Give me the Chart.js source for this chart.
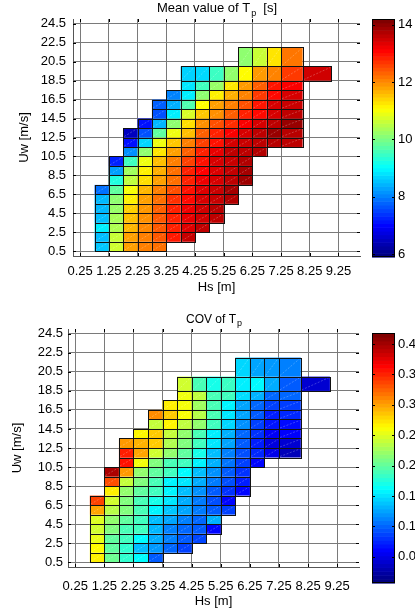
<!DOCTYPE html>
<html>
<head>
<meta charset="utf-8">
<script src="https://cdn.jsdelivr.net/npm/chart.js@4.4.1/dist/chart.umd.min.js"></script>
<style>
html,body{margin:0;padding:0;background:#fff;width:415px;height:615px;overflow:hidden}
canvas{position:absolute}
</style>
</head>
<body>
<canvas id="meanChart" width="415" height="310" style="left:0;top:0"></canvas>
<canvas id="meanBar" width="55" height="310" style="left:360px;top:0"></canvas>
<canvas id="covChart" width="415" height="305" style="left:0;top:310px"></canvas>
<canvas id="covBar" width="55" height="305" style="left:360px;top:310px"></canvas>
<script>
// ---------------- data ----------------
const hsEdges = [0.75,1.25,1.75,2.25,2.75,3.25,3.75,4.25,4.75,5.25,5.75,6.25,6.75,7.25,8.0,9.0];
const uwEdges = [0.5,1.5,2.5,3.5,4.5,5.5,6.5,7.5,8.5,9.5,10.5,11.5,12.5,13.5,14.5,15.5,16.5,17.5,18.5,20.0,22.0];
const hsTickValues = [0.25,1.25,2.25,3.25,4.25,5.25,6.25,7.25,8.25,9.25];
const hsTickLabels = ['0.25','1.25','2.25','3.25','4.25','5.25','6.25','7.25','8.25','9.25'];
const uwTickValues = [0.5,2.5,4.5,6.5,8.5,10.5,12.5,14.5,16.5,18.5,20.5,22.5,24.5];
const uwTickLabels = ['0.5','2.5','4.5','6.5','8.5','10.5','12.5','14.5','16.5','18.5','20.5','22.5','24.5'];
const meanBarTicks = [6,8,10,12,14];
const meanBarLabels = ['6','8','10','12','14'];
const covBarTicks = [0.05,0.1,0.15,0.2,0.25,0.3,0.35,0.4];
const covBarLabels = ['0.05','0.1','0.15','0.2','0.25','0.3','0.35','0.4'];
const meanRange = [5.9,14.2];
const covRange = [0.007,0.418];
const N = null;
// Mean value of Tp [s]; one row per Uw bin (bottom to top), one column per Hs bin
const meanTp = [
 [8.56,10.7,11.86,12.13,12.26,N,N,N,N,N,N,N,N,N,N],
 [8.49,10.64,11.86,12.13,12.45,12.97,13.62,N,N,N,N,N,N,N,N],
 [8.89,10.44,11.67,12.06,12.45,12.9,13.42,13.68,N,N,N,N,N,N,N],
 [8.49,10.38,11.61,11.99,12.45,12.9,13.35,13.55,13.7,N,N,N,N,N,N],
 [8.43,10.25,11.48,11.93,12.38,12.9,13.29,13.55,13.75,N,N,N,N,N,N],
 [8.43,10.18,11.21,11.86,12.26,12.77,13.1,13.49,13.62,13.8,N,N,N,N,N],
 [7.85,9.79,11.02,11.67,12.13,12.52,13.03,13.42,13.6,13.9,N,N,N,N,N],
 [N,9.27,10.57,11.35,11.86,12.26,12.9,13.29,13.5,13.7,13.95,N,N,N,N],
 [N,8.24,10.32,11.21,11.74,12.26,12.9,13.16,13.45,13.65,13.9,N,N,N,N],
 [N,7.2,9.53,10.96,11.61,12.13,12.64,13.03,13.49,13.6,13.8,N,N,N,N],
 [N,N,8.11,10.18,11.28,11.86,12.38,12.9,13.35,13.68,13.7,13.8,N,N,N],
 [N,N,7.06,8.69,10.96,11.54,12.13,12.64,13.03,13.5,13.6,13.7,13.75,13.7,N],
 [N,N,6.42,7.59,9.79,10.96,11.61,12.38,12.9,13.2,13.5,13.7,14.0,13.75,N],
 [N,N,N,7.06,8.43,10.18,11.35,11.99,12.52,12.8,13.2,13.5,13.7,14.0,N],
 [N,N,N,N,7.59,8.89,10.77,11.54,11.99,12.4,12.9,13.1,13.5,13.7,N],
 [N,N,N,N,7.72,8.37,9.66,11.09,11.86,12.13,12.5,13.0,13.5,13.6,N],
 [N,N,N,N,N,8.0,8.89,10.18,11.21,11.74,12.1,12.7,13.1,13.5,N],
 [N,N,N,N,N,N,8.82,9.53,10.25,11.28,11.9,12.4,13.0,13.2,N],
 [N,N,N,N,N,N,8.65,8.7,9.5,10.2,11.1,11.9,12.1,12.7,13.55],
 [N,N,N,N,N,N,N,N,N,N,10.18,10.64,11.3,12.2,N]
];
// COV of Tp
const covTp = [
 [0.27,0.205,0.18,0.16,0.095,N,N,N,N,N,N,N,N,N,N],
 [0.265,0.20,0.18,0.135,0.12,0.10,0.084,N,N,N,N,N,N,N,N],
 [0.255,0.20,0.187,0.16,0.128,0.11,0.095,0.086,N,N,N,N,N,N,N],
 [0.245,0.213,0.19,0.187,0.132,0.11,0.10,0.095,0.06,N,N,N,N,N,N],
 [0.25,0.22,0.20,0.187,0.135,0.125,0.11,0.10,0.13,N,N,N,N,N,N],
 [0.30,0.235,0.213,0.19,0.157,0.138,0.125,0.108,0.095,0.084,N,N,N,N,N],
 [0.34,0.245,0.213,0.19,0.17,0.152,0.128,0.108,0.09,0.06,N,N,N,N,N],
 [N,0.27,0.22,0.20,0.187,0.157,0.135,0.117,0.095,0.078,0.06,N,N,N,N],
 [N,0.335,0.24,0.213,0.19,0.157,0.152,0.128,0.108,0.09,0.07,N,N,N,N],
 [N,0.40,0.305,0.22,0.20,0.187,0.16,0.135,0.117,0.095,0.078,N,N,N,N],
 [N,N,0.36,0.26,0.213,0.19,0.187,0.157,0.13,0.105,0.084,0.06,N,N,N],
 [N,N,0.355,0.30,0.245,0.22,0.20,0.17,0.135,0.11,0.09,0.074,0.05,0.03,N],
 [N,N,0.305,0.295,0.285,0.232,0.213,0.187,0.152,0.125,0.095,0.07,0.045,0.04,N],
 [N,N,N,0.267,0.285,0.24,0.22,0.19,0.155,0.13,0.10,0.078,0.055,0.058,N],
 [N,N,N,N,0.24,0.268,0.238,0.22,0.187,0.145,0.117,0.084,0.066,0.062,N],
 [N,N,N,N,0.31,0.285,0.262,0.235,0.19,0.152,0.125,0.095,0.07,0.074,N],
 [N,N,N,N,N,0.27,0.26,0.225,0.19,0.157,0.125,0.10,0.084,0.083,N],
 [N,N,N,N,N,N,0.258,0.238,0.19,0.187,0.148,0.13,0.10,0.10,N],
 [N,N,N,N,N,N,0.245,0.19,0.17,0.185,0.155,0.16,0.128,0.095,0.04],
 [N,N,N,N,N,N,N,N,N,N,0.145,0.125,0.12,0.11,N]
];

// ---------------- helpers ----------------
const FONT = "'Liberation Sans', Arial, sans-serif";
function clamp01(v){return Math.max(0,Math.min(1,v));}
function jet(t){
  t = clamp01(t);
  const r = clamp01(Math.min(4*t-1.5, -4*t+4.5));
  const g = clamp01(Math.min(4*t-0.5, -4*t+3.5));
  const b = clamp01(Math.min(4*t+0.5, -4*t+2.5));
  return `rgb(${Math.round(r*255)},${Math.round(g*255)},${Math.round(b*255)})`;
}
function buildCells(matrix){
  const pts = [];
  matrix.forEach((row, r) => row.forEach((v, c) => {
    if (v === null) return;
    pts.push({x:(hsEdges[c]+hsEdges[c+1])/2, y:(uwEdges[r]+uwEdges[r+1])/2,
      x0:hsEdges[c], x1:hsEdges[c+1], y0:uwEdges[r], y1:uwEdges[r+1], v});
  }));
  return pts;
}

const cellsPlugin = {
  id:'cells',
  beforeDatasetsDraw(chart, args, o){
    if (!o || !o.range) return;
    const {ctx, scales:{x, y}} = chart;
    const pts = chart.data.datasets[0].data;
    ctx.save();
    pts.forEach(p => {
      const L = x.getPixelForValue(p.x0), R = x.getPixelForValue(p.x1);
      const T = y.getPixelForValue(p.y1), B = y.getPixelForValue(p.y0);
      ctx.fillStyle = jet((p.v - o.range[0])/(o.range[1]-o.range[0]));
      ctx.fillRect(L, T, R-L, B-T);
      ctx.strokeStyle = 'rgba(255,255,255,0.4)';
      ctx.lineWidth = 0.6;
      ctx.setLineDash([2,1.5]);
      ctx.beginPath(); ctx.moveTo(L+1, B-1); ctx.lineTo(R-1, T+1); ctx.stroke();
    });
    ctx.setLineDash([]);
    ctx.strokeStyle = '#111';
    ctx.lineWidth = 1;
    pts.forEach(p => {
      const L = x.getPixelForValue(p.x0), R = x.getPixelForValue(p.x1);
      const T = y.getPixelForValue(p.y1), B = y.getPixelForValue(p.y0);
      ctx.strokeRect(Math.round(L)+0.5, Math.round(T)+0.5, Math.round(R)-Math.round(L), Math.round(B)-Math.round(T));
    });
    ctx.restore();
  }
};

const boxTicksPlugin = {
  id:'boxTicks',
  afterDraw(chart, args, o){
    if (!o || !o.on) return;
    const {ctx, chartArea:a, scales:{x, y}} = chart;
    ctx.save();
    ctx.strokeStyle = '#000'; ctx.lineWidth = 1;
    ctx.beginPath();
    x.ticks.forEach(t => {
      const px = Math.round(x.getPixelForValue(t.value)) + 0.5;
      ctx.moveTo(px, a.bottom); ctx.lineTo(px, a.bottom-3);
      ctx.moveTo(px, a.top); ctx.lineTo(px, a.top+3);
    });
    y.ticks.forEach(t => {
      const py = Math.round(y.getPixelForValue(t.value)) + 0.5;
      ctx.moveTo(a.left, py); ctx.lineTo(a.left+3, py);
      ctx.moveTo(a.right, py); ctx.lineTo(a.right-3, py);
    });
    ctx.stroke();
    ctx.restore();
  }
};

const subTitlePlugin = {
  id:'subTitle',
  afterDraw(chart, args, o){
    if (!o || !o.main) return;
    const ctx = chart.ctx, a = chart.chartArea;
    ctx.save();
    const fMain = `${o.size}px ${FONT}`, fSub = `${o.subSize}px ${FONT}`;
    ctx.font = fMain; const w1 = ctx.measureText(o.main).width; const w3 = ctx.measureText(o.tail).width;
    ctx.font = fSub; const w2 = ctx.measureText(o.sub).width;
    let x = (a.left + a.right)/2 - (w1 + w2 + w3)/2;
    ctx.fillStyle = '#000'; ctx.textAlign = 'left'; ctx.textBaseline = 'alphabetic';
    ctx.font = fMain; ctx.fillText(o.main, x, o.baseline); x += w1 + 1;
    ctx.font = fSub; ctx.fillText(o.sub, x, o.baseline + o.subDrop); x += w2;
    ctx.font = fMain; ctx.fillText(o.tail, x, o.baseline);
    ctx.restore();
  }
};

const colorBarPlugin = {
  id:'colorBar',
  beforeDraw(chart, args, o){
    if (!o || !o.range) return;
    const {ctx, chartArea:a, scales:{y}} = chart;
    const n = 64, lo = o.range[0], hi = o.range[1];
    ctx.save();
    for (let i = 0; i < n; i++) {
      const v0 = lo + (hi-lo)*i/n, v1 = lo + (hi-lo)*(i+1)/n;
      const p0 = y.getPixelForValue(v0), p1 = y.getPixelForValue(v1);
      ctx.fillStyle = jet(i/(n-1));
      ctx.fillRect(a.left, p1, a.right-a.left, p0-p1+0.6);
    }
    ctx.strokeStyle = '#000'; ctx.lineWidth = 1;
    ctx.strokeRect(a.left+0.5, a.top+0.5, a.right-a.left-1, a.bottom-a.top-1);
    ctx.beginPath();
    y.ticks.forEach(t => {
      const py = Math.round(y.getPixelForValue(t.value)) + 0.5;
      ctx.moveTo(a.left, py); ctx.lineTo(a.left+3, py);
      ctx.moveTo(a.right, py); ctx.lineTo(a.right-3, py);
    });
    ctx.stroke();
    ctx.restore();
  }
};
Chart.register(cellsPlugin, boxTicksPlugin, subTitlePlugin, colorBarPlugin);

function heatChart(id, matrix, range, geo, title){
  const tickFont = {family:FONT, size:13};
  return new Chart(document.getElementById(id), {
    type:'scatter',
    data:{datasets:[{data:buildCells(matrix), pointRadius:0, pointHoverRadius:0}]},
    options:{
      responsive:false, animation:false, events:[], devicePixelRatio:1,
      layout:{padding:{left:0, right:geo.padRight, top:geo.top, bottom:0}},
      plugins:{legend:{display:false}, tooltip:{enabled:false},
        cells:{range}, boxTicks:{on:true}, subTitle:title},
      scales:{
        x:{type:'linear', min:0, max:10,
          afterBuildTicks:s => { s.ticks = hsTickValues.map(v => ({value:v})); },
          afterFit:s => { s.height = geo.xHeight; },
          grid:{color:'#7a7a7a', lineWidth:1, drawTicks:false, tickBorderDash:[]},
          border:{display:true, color:'#555', dash:[]},
          ticks:{autoSkip:false, maxRotation:0, minRotation:0, padding:geo.xPad, color:'#000', font:tickFont,
            callback:(v, i) => hsTickLabels[i]},
          title:{display:true, text:'Hs [m]', color:'#000', font:{family:FONT, size:13}, padding:{top:0, bottom:geo.xTitlePad}}
        },
        y:{type:'linear', min:0, max:25,
          afterBuildTicks:s => { s.ticks = uwTickValues.map(v => ({value:v})); },
          afterFit:s => { s.width = geo.left; },
          grid:{color:'#7a7a7a', lineWidth:1, drawTicks:false},
          border:{display:true, color:'#555'},
          ticks:{autoSkip:false, padding:geo.yPad, color:'#000', font:tickFont,
            callback:(v, i) => uwTickLabels[i]},
          title:{display:true, text:'Uw [m/s]', color:'#000', font:{family:FONT, size:13}, padding:{top:geo.yTitlePad, bottom:0}}
        }
      }
    },
    plugins:[{
      id:'dottedGrid',
      beforeInit(chart){
        chart.options.scales.x.grid.borderDash = [2,1];
        chart.options.scales.y.grid.borderDash = [2,1];
      }
    }]
  });
}

function barChart(id, range, ticks, labels, geo){
  return new Chart(document.getElementById(id), {
    type:'scatter',
    data:{datasets:[]},
    options:{
      responsive:false, animation:false, events:[], devicePixelRatio:1,
      layout:{padding:{left:12, right:0, top:geo.top, bottom:geo.bottom}},
      plugins:{legend:{display:false}, tooltip:{enabled:false}, colorBar:{range}},
      scales:{
        x:{display:false, type:'linear', min:0, max:1},
        y:{type:'linear', position:'right', min:range[0], max:range[1],
          afterBuildTicks:s => { s.ticks = ticks.map(v => ({value:v})); },
          afterFit:s => { s.width = 20; },
          grid:{display:false, drawTicks:false}, border:{display:false},
          ticks:{padding:3, color:'#000', font:{family:FONT, size:13}, callback:(v, i) => labels[i]}
        }
      }
    }
  });
}

heatChart('meanChart', meanTp, meanRange,
  {left:73, padRight:55, top:19, xHeight:54, xPad:8, xTitlePad:15, yPad:7, yTitlePad:17},
  {main:'Mean value of T', sub:'p', tail:'  [s]', size:13, subSize:9, baseline:12, subDrop:3.5});
barChart('meanBar', meanRange, meanBarTicks, meanBarLabels, {top:19, bottom:53});
heatChart('covChart', covTp, covRange,
  {left:68, padRight:56, top:19, xHeight:48, xPad:12, xTitlePad:6, yPad:5, yTitlePad:10},
  {main:'COV of T', sub:'p', tail:'', size:12, subSize:9, baseline:12.5, subDrop:3.5});
barChart('covBar', covRange, covBarTicks, covBarLabels, {top:23, bottom:32});
</script>
</body>
</html>
